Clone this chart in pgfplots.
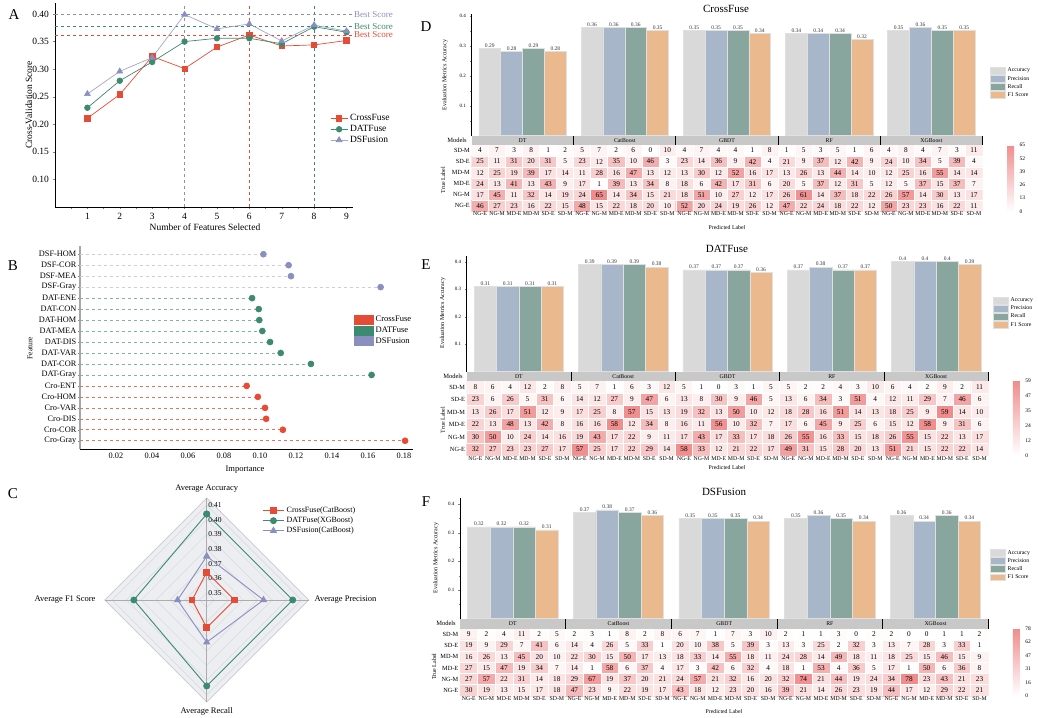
\documentclass[border=0pt]{standalone}
\usepackage{fontspec}
\setmainfont{Liberation Serif}
\usepackage{pgfplots}
\pgfplotsset{compat=1.18}
\usepackage{pgfplotstable}

\definecolor{cRed}{HTML}{E64B35}
\definecolor{cGreen}{HTML}{3C8A6F}
\definecolor{cPurp}{HTML}{8B8FBF}
\definecolor{bAcc}{HTML}{D9D9D9}
\definecolor{bPre}{HTML}{A7B7C9}
\definecolor{bRec}{HTML}{88A59E}
\definecolor{bF1}{HTML}{EAB98D}
\definecolor{stripc}{HTML}{C8C8C8}
\definecolor{radarbg}{HTML}{ECEEF2}

\newcommand\fs[1]{\fontsize{#1pt}{#1pt}\selectfont}

\pgfplotsset{
  /pgf/number format/assume math mode=true,
  colormap={wr}{rgb255=(255,255,255) rgb255=(240,140,140)},
  barax/.style={anchor=south west, scale only axis, xmin=-0.5, xmax=4.5, ymin=0,
    axis x line=none, axis y line*=left, axis line style={-, line width=0.5pt},
    xtick=\empty, ytick={0.1,0.2,0.3,0.4}, minor ytick={0.05,0.15,0.25,0.35},
    tick align=outside, major tick length=2pt, minor tick length=1.2pt,
    yticklabel style={font=\fs{5}, /pgf/number format/fixed},
    clip=false,
    legend style={draw=none, fill=none, anchor=north west, font=\fs{5.8},
      inner sep=0pt, row sep=-1.3pt, legend cell align=left},
    legend image code/.code={\fill[##1] (0pt,-3.4pt) rectangle (15pt,3.4pt);},
    nodes near coords={\pgfmathprintnumber[fixed,precision=2]{\pgfplotspointmeta}},
    every node near coord/.append style={font=\fs{5.5}, inner sep=1pt, text=black!80}},
  barst/.style={ybar, bar width=0.214, draw=black!12, line width=0.5pt},
  heatax/.style={anchor=south west, scale only axis, xmin=-0.5, xmax=29.5, ymin=-0.5, ymax=5.5,
    axis line style={draw=none}, major tick length=0pt, minor tick length=0pt, clip=false,
    axis on top,
    xtick={0,...,29},
    xticklabels={NG-E,NG-M,MD-E,MD-M,SD-E,SD-M,NG-E,NG-M,MD-E,MD-M,SD-E,SD-M,NG-E,NG-M,MD-E,MD-M,SD-E,SD-M,NG-E,NG-M,MD-E,MD-M,SD-E,SD-M,NG-E,NG-M,MD-E,MD-M,SD-E,SD-M},
    ytick={0,...,5}, yticklabels={NG-E,NG-M,MD-E,MD-M,SD-E,SD-M},
    minor xtick={0.5,1.5,...,28.5}, minor ytick={0.5,1.5,...,4.5},
    xminorgrids, yminorgrids, minor grid style={white, line width=0.6pt},
    xticklabel style={font=\fs{5.8}, inner sep=0.5pt},
    yticklabel style={font=\fs{6.3}, inner sep=1.5pt},
    colormap name=wr, point meta min=0,
    colorbar,
    colorbar style={at={(parent axis.south east)}, anchor=south west, xshift=16pt,
      width=7pt, scale only axis, axis line style={draw=none}, major tick length=0pt,
      yticklabel style={font=\fs{5.5}, xshift=2pt}}},
}

% confusion matrices: x column, y row (5 = SD-M ... 0 = NG-E), values for CrossFuse, DATFuse, DSFusion
\pgfplotstableread{
x y D E F
0 5 4 8 9
1 5 7 6 2
2 5 3 4 4
3 5 8 12 11
4 5 1 2 2
5 5 2 8 5
6 5 5 5 2
7 5 7 7 3
8 5 2 1 1
9 5 6 6 8
10 5 0 3 2
11 5 10 12 8
12 5 4 5 6
13 5 7 1 7
14 5 4 0 1
15 5 4 3 7
16 5 1 1 3
17 5 8 5 10
18 5 1 5 2
19 5 5 2 1
20 5 3 2 1
21 5 5 4 3
22 5 1 3 0
23 5 6 10 2
24 5 4 6 2
25 5 8 4 0
26 5 4 2 0
27 5 7 9 1
28 5 3 2 1
29 5 11 11 2
0 4 25 23 19
1 4 11 6 9
2 4 31 26 29
3 4 20 5 7
4 4 31 31 41
5 4 5 6 6
6 4 23 14 14
7 4 12 12 4
8 4 35 27 26
9 4 10 9 5
10 4 46 47 33
11 4 3 6 1
12 4 23 13 20
13 4 14 8 10
14 4 36 30 38
15 4 9 9 5
16 4 42 46 39
17 4 4 5 3
18 4 21 13 13
19 4 9 6 3
20 4 37 34 25
21 4 12 3 2
22 4 42 51 32
23 4 9 4 3
24 4 24 12 13
25 4 10 11 7
26 4 34 29 28
27 4 5 7 3
28 4 39 46 33
29 4 4 6 1
0 3 12 13 16
1 3 25 26 26
2 3 19 17 13
3 3 39 51 45
4 3 17 12 20
5 3 14 9 10
6 3 11 17 22
7 3 28 25 30
8 3 16 8 15
9 3 47 57 50
10 3 13 15 17
11 3 12 13 13
12 3 13 19 18
13 3 30 32 33
14 3 12 13 14
15 3 52 50 55
16 3 16 10 18
17 3 17 12 11
18 3 13 18 24
19 3 26 28 28
20 3 13 16 14
21 3 44 51 49
22 3 14 14 18
23 3 10 13 11
24 3 12 18 18
25 3 25 25 25
26 3 16 9 15
27 3 55 59 46
28 3 14 14 15
29 3 14 10 9
0 2 24 22 27
1 2 13 13 15
2 2 41 48 47
3 2 13 13 19
4 2 43 42 34
5 2 9 8 7
6 2 17 16 14
7 2 1 16 1
8 2 39 58 58
9 2 13 12 6
10 2 34 34 37
11 2 8 8 4
12 2 18 16 17
13 2 6 11 3
14 2 42 56 42
15 2 17 10 6
16 2 31 32 32
17 2 6 7 4
18 2 20 17 18
19 2 5 6 1
20 2 37 45 53
21 2 12 9 4
22 2 31 25 36
23 2 5 6 5
24 2 12 15 17
25 2 5 12 1
26 2 37 58 50
27 2 15 9 6
28 2 37 31 36
29 2 7 6 8
0 1 17 30 27
1 1 45 50 57
2 1 11 10 22
3 1 32 24 31
4 1 14 14 14
5 1 19 16 18
6 1 24 19 29
7 1 65 43 67
8 1 14 17 19
9 1 34 22 37
10 1 15 9 20
11 1 21 11 21
12 1 18 17 24
13 1 51 43 57
14 1 10 17 21
15 1 27 33 32
16 1 12 17 16
17 1 17 18 20
18 1 26 26 32
19 1 61 55 74
20 1 14 16 21
21 1 37 33 44
22 1 18 15 19
23 1 22 18 24
24 1 26 26 34
25 1 57 55 78
26 1 14 15 23
27 1 30 22 43
28 1 13 13 21
29 1 17 17 23
0 0 46 32 30
1 0 27 27 19
2 0 23 23 13
3 0 16 23 15
4 0 22 27 17
5 0 15 17 18
6 0 48 57 47
7 0 15 25 23
8 0 22 17 9
9 0 18 22 22
10 0 20 29 19
11 0 10 14 17
12 0 52 58 43
13 0 20 33 18
14 0 24 12 12
15 0 19 21 23
16 0 26 22 20
17 0 12 17 16
18 0 47 49 39
19 0 22 31 21
20 0 24 15 14
21 0 18 28 26
22 0 22 20 23
23 0 12 13 19
24 0 50 51 44
25 0 23 21 17
26 0 23 15 12
27 0 16 22 29
28 0 22 22 22
29 0 11 14 21
}\heatdata

% metrics per model: 0 DT, 1 CatBoost, 2 GBDT, 3 RF, 4 XGBoost
\pgfplotstableread{
m acc pre rec f1
0 0.29 0.28 0.29 0.28
1 0.36 0.36 0.36 0.35
2 0.35 0.35 0.35 0.34
3 0.34 0.34 0.34 0.32
4 0.35 0.36 0.35 0.35
}\barD
\pgfplotstableread{
m acc pre rec f1
0 0.31 0.31 0.31 0.31
1 0.39 0.39 0.39 0.38
2 0.37 0.37 0.37 0.36
3 0.37 0.38 0.37 0.37
4 0.40 0.40 0.40 0.39
}\barE
\pgfplotstableread{
m acc pre rec f1
0 0.32 0.32 0.32 0.31
1 0.37 0.38 0.37 0.36
2 0.35 0.35 0.35 0.34
3 0.35 0.36 0.35 0.34
4 0.36 0.34 0.36 0.34
}\barF

% radar values: angle, score
\pgfplotstableread{
a v
90 0.364
0 0.364
-90 0.364
180 0.355
90 0.364
}\radCross
\pgfplotstableread{
a v
90 0.404
0 0.404
-90 0.404
180 0.395
90 0.404
}\radDAT
\pgfplotstableread{
a v
90 0.375
0 0.384
-90 0.374
180 0.365
90 0.375
}\radDSF

\newcommand\barpanel[7]{%
\begin{axis}[barax, at={(#1pt,#2pt)}, width=#3pt, height=#4pt, ymax=#5, legend style={at={#7}}]
\addplot[barst, fill=bAcc, bar shift=-0.321,
  every node near coord/.append style={xshift=-0.0642*#3pt}] table[x=m, y=acc] {#6};
\addplot[barst, fill=bPre, bar shift=-0.107,
  every node near coord/.append style={xshift=-0.0214*#3pt}] table[x=m, y=pre] {#6};
\addplot[barst, fill=bRec, bar shift=0.107,
  every node near coord/.append style={xshift=0.0214*#3pt}] table[x=m, y=rec] {#6};
\addplot[barst, fill=bF1, bar shift=0.321,
  every node near coord/.append style={xshift=0.0642*#3pt}] table[x=m, y=f1] {#6};
\legend{Accuracy,Precision,Recall,F1 Score}
\end{axis}}

\newcommand\heatpanel[9]{%
\begin{axis}[heatax, at={(#1pt,#2pt)}, width=#3pt, height=#4pt, point meta max=#6,
  colorbar style={height=#4pt, ymin=0, ymax=#6, ytick={#7}, yticklabels={#8}}]
\addplot[matrix plot*, mesh/cols=30, point meta=explicit,
  nodes near coords, nodes near coords align=center,
  every node near coord/.append style={font=\fs{7.3}, text=black, inner sep=0pt}]
  table[x=x, y=y, meta=#5] {\heatdata};
\fill[stripc] (axis cs:-0.5,5.5) rectangle ([yshift=#9pt]axis cs:29.5,5.5);
\draw[black, line width=0.9pt] (axis cs:5.5,5.5) -- ([yshift=#9pt]axis cs:5.5,5.5);
\draw[black, line width=0.9pt] (axis cs:11.5,5.5) -- ([yshift=#9pt]axis cs:11.5,5.5);
\draw[black, line width=0.9pt] (axis cs:17.5,5.5) -- ([yshift=#9pt]axis cs:17.5,5.5);
\draw[black, line width=0.9pt] (axis cs:23.5,5.5) -- ([yshift=#9pt]axis cs:23.5,5.5);
\draw[black, line width=0.9pt] (axis cs:29.5,5.5) -- ([yshift=#9pt]axis cs:29.5,5.5);
\node[font=\fs{5.8}] at ([yshift=0.5*#9pt]axis cs:2.5,5.5) {DT};
\node[font=\fs{5.8}] at ([yshift=0.5*#9pt]axis cs:8.5,5.5) {CatBoost};
\node[font=\fs{5.8}] at ([yshift=0.5*#9pt]axis cs:14.5,5.5) {GBDT};
\node[font=\fs{5.8}] at ([yshift=0.5*#9pt]axis cs:20.5,5.5) {RF};
\node[font=\fs{5.8}] at ([yshift=0.5*#9pt]axis cs:26.5,5.5) {XGBoost};
\end{axis}}

\begin{document}
\begin{tikzpicture}
\useasboundingbox (0,0) rectangle (1038pt,717pt);

%% A: feature selection curves
\begin{axis}[at={(55pt,510pt)}, anchor=south west, scale only axis, width=298pt, height=204pt,
  xmin=0, xmax=9.2, ymin=0.05, ymax=0.42,
  axis x line*=bottom, axis y line*=left, axis line style={-, line width=0.6pt},
  xtick={1,...,9}, minor xtick={0.5,1.5,...,8.5},
  ytick={0.10,0.15,0.20,0.25,0.30,0.35,0.40},
  yticklabel style={/pgf/number format/.cd, fixed, fixed zerofill, precision=2},
  tick align=outside, major tick length=2.5pt, minor tick length=2.5pt,
  ticklabel style={font=\fs{9.5}},
  clip=false,
  legend style={draw=none, fill=none, at={(0.923,0.381)}, anchor=west,
    font=\fs{9.5}, row sep=-1pt, inner sep=0pt, legend cell align=left}]
\addplot[cPurp, dashed, line width=0.7pt, forget plot] coordinates {(4,0.05) (4,0.42)};
\addplot[cRed, dashed, line width=0.7pt, forget plot] coordinates {(6,0.05) (6,0.42)};
\addplot[cGreen, dashed, line width=0.7pt, forget plot] coordinates {(8,0.05) (8,0.42)};
\addplot[cPurp, dashed, line width=0.7pt, forget plot] coordinates {(0,0.399) (9.2,0.399)};
\addplot[cGreen, dashed, line width=0.7pt, forget plot] coordinates {(0,0.377) (9.2,0.377)};
\addplot[cRed, dashed, line width=0.7pt, forget plot] coordinates {(0,0.362) (9.2,0.362)};
\addplot[cRed, line width=0.7pt, mark=square*, mark size=2.7pt] coordinates {
  (1,0.211) (2,0.254) (3,0.323) (4,0.301) (5,0.340) (6,0.362) (7,0.342) (8,0.344) (9,0.352)};
\addplot[cGreen, line width=0.7pt, mark=*, mark size=2.8pt] coordinates {
  (1,0.230) (2,0.279) (3,0.313) (4,0.350) (5,0.356) (6,0.356) (7,0.346) (8,0.377) (9,0.367)};
\addplot[cPurp!80, line width=0.7pt, mark=triangle*, mark size=3.3pt, mark options={fill=cPurp, draw=cPurp}] coordinates {
  (1,0.255) (2,0.296) (3,0.321) (4,0.399) (5,0.373) (6,0.382) (7,0.351) (8,0.380) (9,0.369)};
\legend{CrossFuse,DATFuse,DSFusion}
\node[anchor=west, text=cPurp, font=\fs{9}, inner sep=1pt] at (axis cs:9.2,0.399) {Best Score};
\node[anchor=west, text=cGreen, font=\fs{9}, inner sep=1pt] at (axis cs:9.2,0.377) {Best Score};
\node[anchor=west, text=cRed, font=\fs{9}, inner sep=1pt] at (axis cs:9.2,0.362) {Best Score};
\end{axis}

%% B: feature importance lollipops
\begin{axis}[at={(80pt,268pt)}, anchor=south west, scale only axis, width=333pt, height=203pt,
  xmin=0, xmax=0.185, ymin=-0.75, ymax=17.75,
  axis x line*=bottom, axis y line*=left, axis line style={-},
  y axis line style={line width=1.3pt, gray!70},
  xtick={0.02,0.04,0.06,0.08,0.10,0.12,0.14,0.16,0.18},
  xticklabel style={/pgf/number format/.cd, fixed, fixed zerofill, precision=2},
  ytick={0,...,17},
  yticklabels={Cro-Gray,Cro-COR,Cro-DIS,Cro-VAR,Cro-HOM,Cro-ENT,DAT-Gray,DAT-COR,DAT-VAR,DAT-DIS,DAT-MEA,DAT-HOM,DAT-CON,DAT-ENE,DSF-Gray,DSF-MEA,DSF-COR,DSF-HOM},
  tick align=outside, major tick length=2pt, xtick style={draw=none},
  ticklabel style={font=\fs{8.3}, inner sep=1.5pt},
  clip=false,
  legend style={at={(0.823,0.665)}, anchor=north west, draw=none, fill=none,
    font=\fs{8.5}, row sep=-0.5pt, inner sep=0pt, legend cell align=left},
  legend image code/.code={\fill[#1] (0pt,-4.5pt) rectangle (19pt,4.5pt);}]
\addplot[xcomb, cRed!80, dashed, line width=0.6pt, mark=*, mark size=3pt,
  mark options={solid, fill=cRed, draw=cRed}, forget plot] coordinates {
  (0.1806,0) (0.1127,1) (0.1034,2) (0.1028,3) (0.0988,4) (0.0926,5)};
\addplot[xcomb, cGreen!65, dashed, line width=0.6pt, mark=*, mark size=3pt,
  mark options={solid, fill=cGreen, draw=cGreen}, forget plot] coordinates {
  (0.162,6) (0.1283,7) (0.1115,8) (0.1056,9) (0.1013,10) (0.0996,11) (0.0993,12) (0.0956,13)};
\addplot[xcomb, cPurp!45, dashed, line width=0.6pt, mark=*, mark size=3pt,
  mark options={solid, fill=cPurp, draw=cPurp}, forget plot] coordinates {
  (0.167,14) (0.1172,15) (0.1159,16) (0.1019,17)};
\addlegendimage{cRed}\addlegendentry{CrossFuse}
\addlegendimage{cGreen}\addlegendentry{DATFuse}
\addlegendimage{cPurp}\addlegendentry{DSFusion}
\end{axis}

%% C: radar of best models
\begin{axis}[at={(104.7pt,15pt)}, anchor=south west, scale only axis, width=204pt, height=204pt,
  xmin=-0.07, xmax=0.07, ymin=-0.07, ymax=0.07, hide axis, clip=false,
  legend style={at={(0.771,0.966)}, anchor=north west, draw=none, fill=none,
    font=\fs{8}, row sep=-1pt, inner sep=0pt, legend cell align=left},
  legend image code/.code={\draw[mark repeat=2,mark phase=2,#1] plot coordinates {(0cm,0cm) (0.38cm,0cm) (0.76cm,0cm)};}]
\addplot[fill=radarbg, draw=gray!50, line width=0.6pt, forget plot] coordinates {(0.07,0) (0,0.07) (-0.07,0) (0,-0.07) (0.07,0)};
\pgfplotsinvokeforeach{0.005,0.015,0.025,0.035,0.045,0.055,0.065}{
  \addplot[draw=gray!30, line width=0.5pt, forget plot] coordinates {(#1,0) (0,#1) (-#1,0) (0,-#1) (#1,0)};}
\addplot[gray!65, line width=0.6pt, forget plot] coordinates {(0,-0.07) (0,0.07)};
\addplot[gray!65, line width=0.6pt, forget plot] coordinates {(-0.07,0) (0.07,0)};
\node[anchor=west, font=\fs{7.5}, inner sep=1.5pt] at (axis cs:0,0.005) {0.35};
\node[anchor=west, font=\fs{7.5}, inner sep=1.5pt] at (axis cs:0,0.015) {0.36};
\node[anchor=west, font=\fs{7.5}, inner sep=1.5pt] at (axis cs:0,0.025) {0.37};
\node[anchor=west, font=\fs{7.5}, inner sep=1.5pt] at (axis cs:0,0.035) {0.38};
\node[anchor=west, font=\fs{7.5}, inner sep=1.5pt] at (axis cs:0,0.045) {0.39};
\node[anchor=west, font=\fs{7.5}, inner sep=1.5pt] at (axis cs:0,0.055) {0.40};
\node[anchor=west, font=\fs{7.5}, inner sep=1.5pt] at (axis cs:0,0.065) {0.41};
\addplot[cRed, line width=0.9pt, mark=square*, mark size=2.8pt]
  table[x expr={(\thisrow{v}-0.345)*cos(\thisrow{a})}, y expr={(\thisrow{v}-0.345)*sin(\thisrow{a})}] {\radCross};
\addplot[cGreen, line width=0.9pt, mark=*, mark size=3pt]
  table[x expr={(\thisrow{v}-0.345)*cos(\thisrow{a})}, y expr={(\thisrow{v}-0.345)*sin(\thisrow{a})}] {\radDAT};
\addplot[cPurp, line width=0.9pt, mark=triangle*, mark size=3.4pt]
  table[x expr={(\thisrow{v}-0.345)*cos(\thisrow{a})}, y expr={(\thisrow{v}-0.345)*sin(\thisrow{a})}] {\radDSF};
\legend{CrossFuse(CatBoost),DATFuse(XGBoost),DSFusion(CatBoost)}
\end{axis}

%% D, E, F: metrics and confusion matrices
\barpanel{471.5}{581.3}{511}{121.5}{0.405}{\barD}{(1.0147,0.574)}
\heatpanel{471.5}{505.6}{511}{66.4}{D}{65}{0,13,26,39,52,65}{0,13,26,39,52,65}{9.3}
\barpanel{466.7}{345.3}{521.6}{115.5}{0.42}{\barE}{(1.009,0.658)}
\heatpanel{466.7}{261.3}{521.6}{75}{E}{59}{0,11.8,23.6,35.4,47.2,59}{0,12,24,35,47,59}{9}
\barpanel{460}{98.3}{528.3}{120.4}{0.42}{\barF}{(1.0032,0.587)}
\heatpanel{460}{21}{528.3}{67.3}{F}{78}{0,15.6,31.2,46.8,62.4,78}{0,16,31,47,62,78}{10}

%% texts
\node[font=\fs{15}] at (14pt,702pt) {A};
\node[font=\fs{15}] at (13pt,451pt) {B};
\node[font=\fs{15}] at (13pt,223pt) {C};
\node[font=\fs{15}] at (426pt,690pt) {D};
\node[font=\fs{15}] at (426pt,452pt) {E};
\node[font=\fs{15}] at (426pt,215pt) {F};
\node[rotate=90, font=\fs{9.5}] at (29pt,612pt) {Cross-Validation Score};
\node[font=\fs{9.5}] at (205pt,490pt) {Number of Features Selected};
\node[rotate=90, font=\fs{7.5}] at (30pt,369pt) {Feature};
\node[font=\fs{8.5}] at (245pt,247pt) {Importance};
\node[font=\fs{8.5}, anchor=south] at (206.7pt,221pt) {Average Accuracy};
\node[font=\fs{8.5}, anchor=west] at (311pt,117pt) {Average Precision};
\node[font=\fs{8.5}, anchor=east] at (99pt,117pt) {Average F1 Score};
\node[font=\fs{8.5}, anchor=north] at (206.7pt,13pt) {Average Recall};
\node[font=\fs{11}] at (726pt,708.5pt) {CrossFuse};
\node[rotate=90, font=\fs{6}] at (445pt,642pt) {Evaluation Metrics Accuracy};
\node[font=\fs{6.5}] at (457pt,577pt) {Models};
\node[rotate=90, font=\fs{6}] at (443pt,537pt) {True Label};
\node[font=\fs{5.8}] at (727pt,489pt) {Predicted Label};
\node[font=\fs{11}] at (727pt,467.7pt) {DATFuse};
\node[rotate=90, font=\fs{6}] at (442.7pt,404pt) {Evaluation Metrics Accuracy};
\node[font=\fs{6.5}] at (453pt,341pt) {Models};
\node[rotate=90, font=\fs{6}] at (442.7pt,297pt) {True Label};
\node[font=\fs{5.8}] at (727pt,249pt) {Predicted Label};
\node[font=\fs{11}] at (724pt,225.3pt) {DSFusion};
\node[rotate=90, font=\fs{6}] at (436pt,159pt) {Evaluation Metrics Accuracy};
\node[font=\fs{6.5}] at (446pt,93.3pt) {Models};
\node[rotate=90, font=\fs{6}] at (434pt,50.3pt) {True Label};
\node[font=\fs{5.8}] at (724pt,5.5pt) {Predicted Label};
\end{tikzpicture}
\end{document}
